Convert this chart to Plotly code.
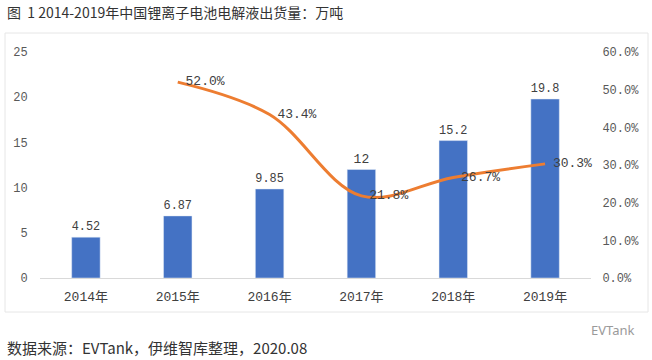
import plotly.graph_objects as go

years = ["2014年", "2015年", "2016年", "2017年", "2018年", "2019年"]
shipments = [4.52, 6.87, 9.85, 12, 15.2, 19.8]
shipment_labels = ["4.52", "6.87", "9.85", "12", "15.2", "19.8"]
growth_years = ["2015年", "2016年", "2017年", "2018年", "2019年"]
growth = [0.520, 0.434, 0.218, 0.267, 0.303]
left_ticks = [0, 5, 10, 15, 20, 25]
right_ticks = [0, 0.1, 0.2, 0.3, 0.4, 0.5, 0.6]

MONO = "Liberation Mono, Noto Sans CJK SC, monospace"

fig = go.Figure()
fig.add_trace(go.Bar(
    x=years, y=shipments, marker_color="#4472C4", width=0.31,
    text=shipment_labels, textposition="outside", cliponaxis=False,
    textfont=dict(family=MONO, size=13, color="#404040"),
    showlegend=False, hoverinfo="skip",
))
fig.add_trace(go.Scatter(
    x=growth_years, y=growth, yaxis="y2", mode="lines+text",
    line=dict(color="#ED7D31", width=3, shape="spline", smoothing=1.0),
    text=["\u00a0" + f"{v*100:.1f}%" for v in growth], textposition="middle right",
    textfont=dict(family=MONO, size=13, color="#404040"),
    cliponaxis=False, showlegend=False, hoverinfo="skip",
))

fig.update_layout(
    width=652, height=360,
    margin=dict(l=40, r=61, t=52, b=82),
    paper_bgcolor="white", plot_bgcolor="white",
    font=dict(family=MONO, size=12, color="#595959"),
    xaxis=dict(
        type="category", showgrid=False, showline=True, linecolor="#D9D9D9",
        linewidth=1, ticks="outside", ticklen=6, tickcolor="rgba(0,0,0,0)",
        tickfont=dict(family=MONO, size=13, color="#404040"), fixedrange=True,
    ),
    yaxis=dict(
        range=[0, 25], tickvals=left_ticks, showgrid=False, zeroline=False,
        ticks="outside", ticklen=9, tickcolor="rgba(0,0,0,0)",
        tickfont=dict(family=MONO, size=12, color="#595959"),
    ),
    yaxis2=dict(
        range=[0, 0.6], tickvals=right_ticks, overlaying="y", side="right",
        tickformat=".1%", showgrid=False, zeroline=False,
        ticks="outside", ticklen=8, tickcolor="rgba(0,0,0,0)",
        tickfont=dict(family=MONO, size=12, color="#595959"),
    ),
    shapes=[dict(
        type="rect", xref="paper", yref="paper",
        x0=-35/551, x1=(648-40)/551, y0=-(312-278)/226, y1=(278-33)/226,
        line=dict(color="#E6E6E6", width=1), fillcolor="rgba(0,0,0,0)",
    )],
    annotations=[
        dict(text="图  1 2014-2019年中国锂离子电池电解液出货量：万吨",
             xref="paper", yref="paper", x=-35/551, y=(278-12)/226,
             xanchor="left", yanchor="middle", showarrow=False,
             font=dict(family="Noto Sans CJK SC", size=14, color="#333333")),
        dict(text="数据来源：EVTank，伊维智库整理，2020.08",
             xref="paper", yref="paper", x=-35/551, y=(278-347)/226,
             xanchor="left", yanchor="middle", showarrow=False,
             font=dict(family="Noto Sans CJK SC", size=15, color="#333333")),
        dict(text="EVTank",
             xref="paper", yref="paper", x=(637-40)/551, y=(278-330)/226,
             xanchor="right", yanchor="middle", showarrow=False,
             font=dict(family="Noto Sans", size=13, color="#9A9A9A")),
    ],
)

fig.write_html("out.html")
